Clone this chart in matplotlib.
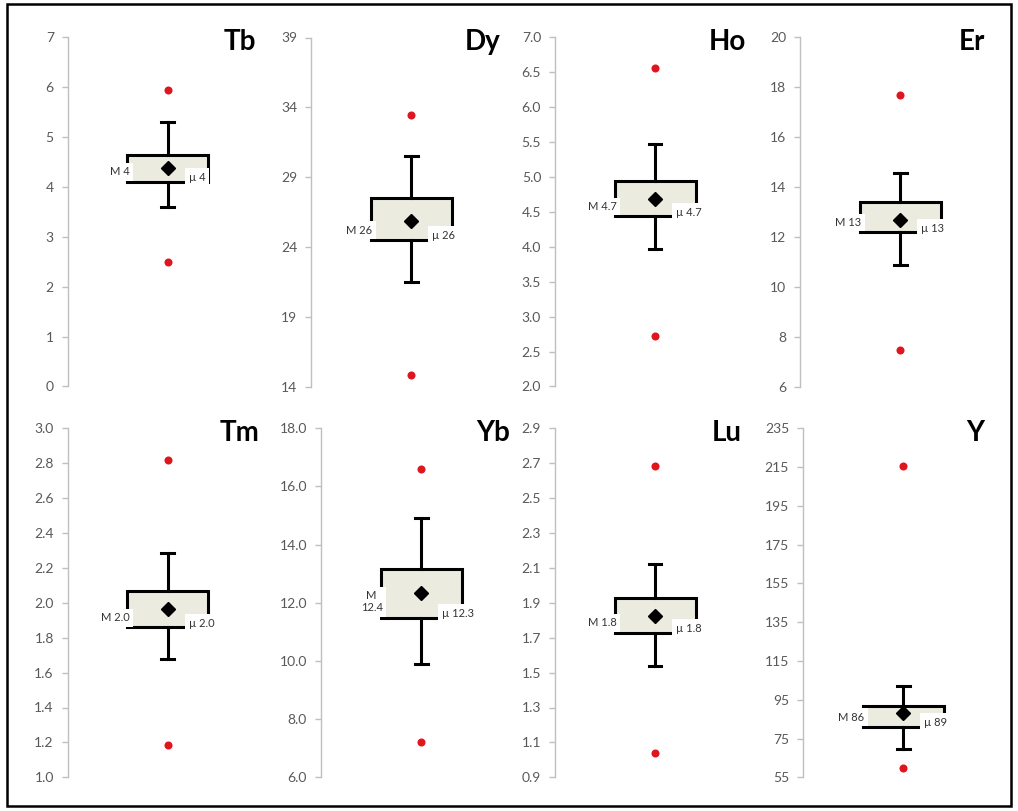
import matplotlib
matplotlib.use("Agg")
import matplotlib.pyplot as plt
from matplotlib.patches import Rectangle
import numpy as np

plt.rcParams['font.family'] = ['Lato', 'DejaVu Sans']

# values
elements = ["Tb", "Dy", "Ho", "Er", "Tm", "Yb", "Lu", "Y"]
low_outlier = [2.49, 14.8, 2.72, 7.47, 1.186, 7.21, 1.040, 59.7]
whisker_low = [3.60, 21.5, 3.97, 10.89, 1.678, 9.90, 1.537, 69.7]
q1 = [4.11, 24.5, 4.44, 12.19, 1.859, 11.49, 1.729, 81.0]
mean = [4.38, 25.86, 4.68, 12.69, 1.967, 12.32, 1.824, 88.0]
q3 = [4.64, 27.49, 4.94, 13.40, 2.066, 13.15, 1.926, 91.6]
whisker_high = [5.30, 30.5, 5.47, 14.55, 2.283, 14.93, 2.121, 102.1]
high_outlier = [5.95, 33.43, 6.57, 17.69, 2.818, 16.61, 2.684, 215.8]
median_labels = ["M 4", "M 26", "M 4.7", "M 13", "M 2.0", "M\n12.4", "M 1.8", "M 86"]
mean_labels = ["µ 4", "µ 26", "µ 4.7", "µ 13", "µ 2.0", "µ 12.3", "µ 1.8", "µ 89"]
y_min = [0, 14, 2.0, 6, 1.0, 6.0, 0.9, 55]
y_max = [7, 39, 7.0, 20, 3.0, 18.0, 2.9, 235]
y_step = [1, 5, 0.5, 2, 0.2, 2.0, 0.2, 20]
decimals = [0, 0, 1, 0, 1, 1, 1, 0]

W, H = 1018, 811
fig = plt.figure(figsize=(W / 100, H / 100), dpi=100)

lefts = [67.7, 311, 555, 800, 67.7, 321, 555, 803]
tops = [37.5, 37.5, 37.5, 37.5, 428.3, 428.3, 428.3, 428.3]
ax_w, ax_h = 200, 349

fill_col = "#ECEBE0"
spine_col = "#BFBFBF"
tick_col = "#595959"
half = 0.405
cap = 0.065

for i, name in enumerate(elements):
    ax = fig.add_axes([lefts[i] / W, 1 - (tops[i] + ax_h) / H, ax_w / W, ax_h / H])
    ax.set_xlim(0, 2)
    ax.set_ylim(y_min[i], y_max[i])
    ticks = np.arange(y_min[i], y_max[i] + y_step[i] / 2, y_step[i])
    ax.set_yticks(ticks)
    ax.set_yticklabels([f"{t:.{decimals[i]}f}" for t in ticks])
    ax.set_xticks([])
    for s in ["top", "right", "bottom"]:
        ax.spines[s].set_visible(False)
    ax.spines["left"].set_color(spine_col)
    ax.spines["left"].set_linewidth(1.0)
    ax.tick_params(axis="y", colors=spine_col, labelcolor=tick_col, length=4,
                   width=1.0, pad=6, labelsize=10)
    ax.patch.set_alpha(0)

    # box
    ax.add_patch(Rectangle((1 - half, q1[i]), 2 * half, q3[i] - q1[i],
                           facecolor=fill_col, edgecolor="black", lw=2.2, zorder=2))
    # whiskers
    ax.plot([1, 1], [q3[i], whisker_high[i]], color="black", lw=2.2, zorder=2)
    ax.plot([1, 1], [q1[i], whisker_low[i]], color="black", lw=2.2, zorder=2)
    ax.plot([1 - cap, 1 + cap], [whisker_high[i]] * 2, color="black", lw=2.2, zorder=2)
    ax.plot([1 - cap, 1 + cap], [whisker_low[i]] * 2, color="black", lw=2.2, zorder=2)

    # outliers
    ax.plot([1, 1], [low_outlier[i], high_outlier[i]], "o", ls="none", color="#E0161E",
            markersize=5.8, markeredgewidth=0, zorder=3)

    # labels
    ax.annotate(median_labels[i], xy=(1 - half, q1[i]), xytext=(1.5, 3),
                textcoords="offset points", ha="right", va="bottom", fontsize=8,
                color="#333333", linespacing=1.15, multialignment="center", zorder=4,
                bbox=dict(boxstyle="square,pad=0.3", fc="white", ec="none"))
    ax.annotate(mean_labels[i], xy=(1 + 0.17, q1[i]), xytext=(3, 3),
                textcoords="offset points", ha="left", va="center", fontsize=8,
                color="#333333", zorder=4,
                bbox=dict(boxstyle="square,pad=0.35", fc="white", ec="none"))

    # mean marker
    ax.plot(1, mean[i], marker="D", color="black", markersize=7, zorder=5)

    ax.text(0.86, 0.965, name, transform=ax.transAxes, ha="center", va="baseline",
            fontsize=20, fontweight="bold", color="black")

fig.patches.append(Rectangle((7 / W, 1 - 806 / H), 1004 / W, 802 / H, transform=fig.transFigure,
                             fill=False, edgecolor="black", lw=1.8))

fig.savefig("out.png", dpi=100)
